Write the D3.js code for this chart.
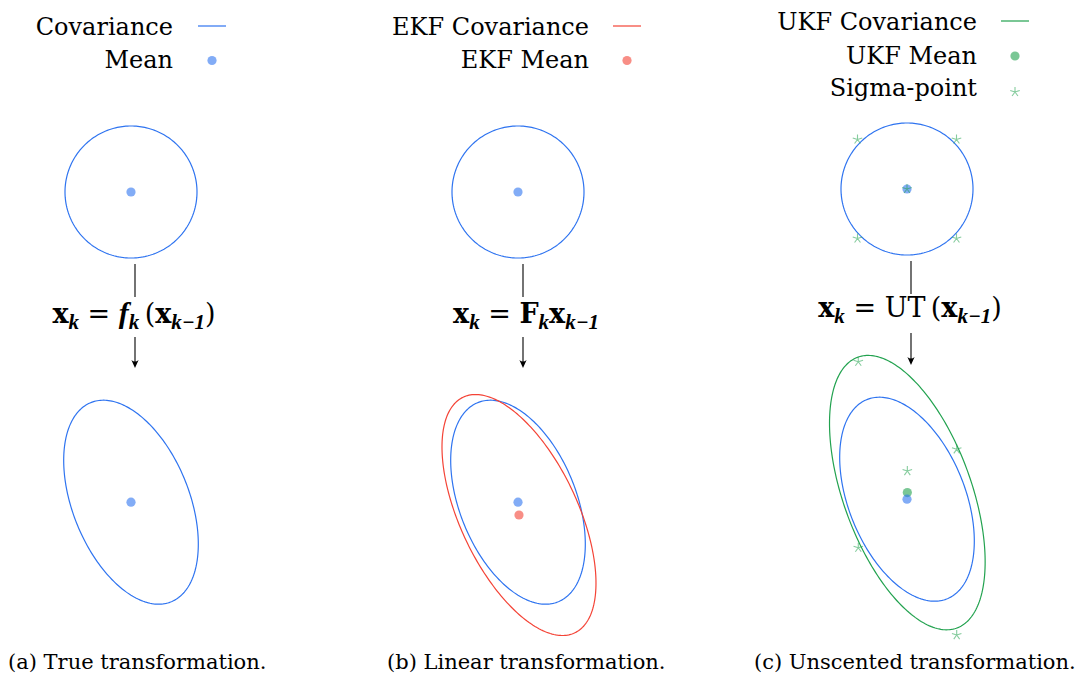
<!DOCTYPE html>
<html><head><meta charset="utf-8">
<script src="https://cdn.jsdelivr.net/npm/d3@7"></script>
<style>
html,body{margin:0;padding:0;background:#fff;}
svg{display:block;}
text{font-family:"DejaVu Serif",serif;fill:#000;}
</style>
</head><body>
<svg id="chart" width="1085" height="677"></svg>
<script>
// ---------------- data (state units; prior covariance = identity) ----------------
const priorMean = [0, 0];
const priorCov = [[1, 0], [0, 1]];
const trueMean = [0, -4.70];
const trueCov = [[1.040, -0.647], [-0.647, 2.388]];
const ekfMean = [0.015, -4.894];
const ekfCov = [[1.361, -1.203], [-1.203, 3.333]];
const ukfMean = [0.005, -4.60];
const ukfCov = [[1.390, -1.237], [-1.237, 4.321]];
const priorSigma = [[0, 0], [-0.75, 0.75], [0.75, 0.75], [-0.75, -0.75], [0.75, -0.75]];
const postSigma = [[0.005, -4.273], [-0.738, -2.617], [0.753, -3.944], [-0.738, -5.435], [0.753, -6.758]];

const legendA = ["Covariance", "Mean"];
const legendB = ["EKF Covariance", "EKF Mean"];
const legendC = ["UKF Covariance", "UKF Mean", "Sigma-point"];
const captions = ["(a) True transformation.", "(b) Linear transformation.", "(c) Unscented transformation."];

// ---------------- styles ----------------
const BLUE = "#2f74f0", RED = "#f44336", GREEN = "#22a24f";
const svg = d3.select("#chart");
svg.append("rect").attr("width", 1085).attr("height", 677).attr("fill", "#fff");

// panel layout: origin of prior mean in px, px per unit
const UNIT = 66;
const panels = [
  {ox: 131, oy: 192, arrowX: 135, arrowTop: [264, 297], arrowBot: [337, 368], eqX: 134, eqY: 323,
   legRight: 173, legBase: [35, 68], legMark: 212, capX: 8},
  {ox: 518, oy: 192, arrowX: 523, arrowTop: [264, 297], arrowBot: [337, 368], eqX: 526, eqY: 323,
   legRight: 589, legBase: [35, 68], legMark: 627, capX: 387},
  {ox: 907, oy: 189, arrowX: 911, arrowTop: [261, 294], arrowBot: [333, 365], eqX: 910, eqY: 317,
   legRight: 977, legBase: [30, 63.5, 96], legMark: 1015, capX: 754}
];
panels.forEach(p => {
  p.x = d3.scaleLinear().domain([-1, 1]).range([p.ox - UNIT, p.ox + UNIT]);
  p.y = d3.scaleLinear().domain([-1, 1]).range([p.oy + UNIT, p.oy - UNIT]);
  p.g = svg.append("g");
});

function ellipsePts(mean, cov) {
  const a = cov[0][0], b = cov[0][1], c = cov[1][1];
  const l11 = Math.sqrt(a), l21 = b / l11, l22 = Math.sqrt(c - l21 * l21);
  return d3.range(0, 240).map(i => {
    const t = i / 240 * 2 * Math.PI, u = Math.cos(t), v = Math.sin(t);
    return [mean[0] + l11 * u, mean[1] + l21 * u + l22 * v];
  });
}
function drawEllipse(p, mean, cov, color) {
  const line = d3.line().x(d => p.x(d[0])).y(d => p.y(d[1])).curve(d3.curveLinearClosed);
  p.g.append("path").attr("d", line(ellipsePts(mean, cov)))
    .attr("fill", "none").attr("stroke", color).attr("stroke-width", 1.2);
}
function drawMean(p, m, color) {
  p.g.append("circle").attr("cx", p.x(m[0])).attr("cy", p.y(m[1])).attr("r", 4.6)
    .attr("fill", color).attr("fill-opacity", 0.6);
}
function starPath(cx, cy, r) {
  let s = "";
  for (let i = 0; i < 5; i++) {
    const a = (-90 + 72 * i) * Math.PI / 180;
    s += `M${cx},${cy}L${cx + r * Math.cos(a)},${cy + r * Math.sin(a)}`;
  }
  return s;
}
function drawStar(g, cx, cy) {
  g.append("path").attr("d", starPath(cx, cy, 5)).attr("fill", "none")
    .attr("stroke", GREEN).attr("stroke-opacity", 0.55).attr("stroke-width", 1.1);
}
function drawArrow(p) {
  const g = p.g;
  g.append("line").attr("x1", p.arrowX).attr("x2", p.arrowX).attr("y1", p.arrowTop[0]).attr("y2", p.arrowTop[1])
    .attr("stroke", "#000").attr("stroke-width", 1.1);
  g.append("line").attr("x1", p.arrowX).attr("x2", p.arrowX).attr("y1", p.arrowBot[0]).attr("y2", p.arrowBot[1] - 2)
    .attr("stroke", "#000").attr("stroke-width", 1.1);
  const t = p.arrowBot[1], x = p.arrowX;
  g.append("path").attr("d", `M${x},${t}L${x - 3.6},${t - 8}Q${x},${t - 5} ${x + 3.6},${t - 8}Z`).attr("fill", "#000");
}
function drawEq(p, parts) {
  const t = p.g.append("text").attr("y", p.eqY).style("font-size", "27px");
  let sub = false;
  parts.forEach(pt => {
    const ts = t.append("tspan").text(pt.t);
    if (pt.b) ts.style("font-weight", "bold");
    if (pt.i) ts.style("font-style", "italic").style("font-family", "'Liberation Serif', serif")
      .style("font-weight", "bold");
    if (pt.i && !pt.s) ts.style("font-size", "30px");
    if (pt.s) { ts.style("font-size", "21px"); if (!sub) { ts.attr("dy", 6); sub = true; } }
    else if (sub) { ts.attr("dy", -6); sub = false; }
  });
  const w = t.node().getComputedTextLength();
  t.attr("x", p.eqX - w / 2);
}
function drawLegend(p, labels, kinds, colors) {
  labels.forEach((lab, i) => {
    const base = p.legBase[i];
    p.g.append("text").attr("x", p.legRight).attr("y", base).attr("text-anchor", "end")
      .style("font-size", "24px").text(lab);
    if (kinds[i] === "line") {
      p.g.append("line").attr("x1", p.legMark - 14).attr("x2", p.legMark + 14)
        .attr("y1", base - 9).attr("y2", base - 9).attr("stroke", colors[i]).attr("stroke-width", 1.2);
    } else if (kinds[i] === "dot") {
      p.g.append("circle").attr("cx", p.legMark).attr("cy", base - 7.5).attr("r", 4.6)
        .attr("fill", colors[i]).attr("fill-opacity", 0.6);
    } else {
      drawStar(p.g, p.legMark, base - 4);
    }
  });
}

// ---------------- panel (a) ----------------
const [pa, pb, pc] = panels;
drawEllipse(pa, priorMean, priorCov, BLUE);
drawMean(pa, priorMean, BLUE);
drawEllipse(pa, trueMean, trueCov, BLUE);
drawMean(pa, trueMean, BLUE);
drawArrow(pa);
drawEq(pa, [{t: "x", b: 1}, {t: "k", i: 1, s: 1}, {t: " = "}, {t: "f", i: 1}, {t: "k", i: 1, s: 1},
  {t: "\u2009("}, {t: "x", b: 1}, {t: "k\u22121", i: 1, s: 1}, {t: ")"}]);
drawLegend(pa, legendA, ["line", "dot"], [BLUE, BLUE]);

// ---------------- panel (b) ----------------
drawEllipse(pb, priorMean, priorCov, BLUE);
drawMean(pb, priorMean, BLUE);
drawEllipse(pb, trueMean, trueCov, BLUE);
drawEllipse(pb, ekfMean, ekfCov, RED);
drawMean(pb, trueMean, BLUE);
drawMean(pb, ekfMean, RED);
drawArrow(pb);
drawEq(pb, [{t: "x", b: 1}, {t: "k", i: 1, s: 1}, {t: " = "}, {t: "F", b: 1}, {t: "k", i: 1, s: 1},
  {t: "x", b: 1}, {t: "k\u22121", i: 1, s: 1}]);
drawLegend(pb, legendB, ["line", "dot"], [RED, RED]);

// ---------------- panel (c) ----------------
drawEllipse(pc, priorMean, priorCov, BLUE);
drawMean(pc, priorMean, BLUE);
priorSigma.forEach(s => drawStar(pc.g, pc.x(s[0]), pc.y(s[1])));
drawEllipse(pc, trueMean, trueCov, BLUE);
drawEllipse(pc, ukfMean, ukfCov, GREEN);
drawMean(pc, ukfMean, GREEN);
drawMean(pc, trueMean, BLUE);
postSigma.forEach(s => drawStar(pc.g, pc.x(s[0]), pc.y(s[1])));
drawArrow(pc);
drawEq(pc, [{t: "x", b: 1}, {t: "k", i: 1, s: 1}, {t: " = UT\u2009("}, {t: "x", b: 1}, {t: "k\u22121", i: 1, s: 1}, {t: ")"}]);
drawLegend(pc, legendC, ["line", "dot", "star"], [GREEN, GREEN, GREEN]);

// ---------------- captions ----------------
panels.forEach((p, i) => {
  svg.append("text").attr("x", p.capX).attr("y", 669).style("font-size", "21px").text(captions[i]);
});
</script>
</body></html>
